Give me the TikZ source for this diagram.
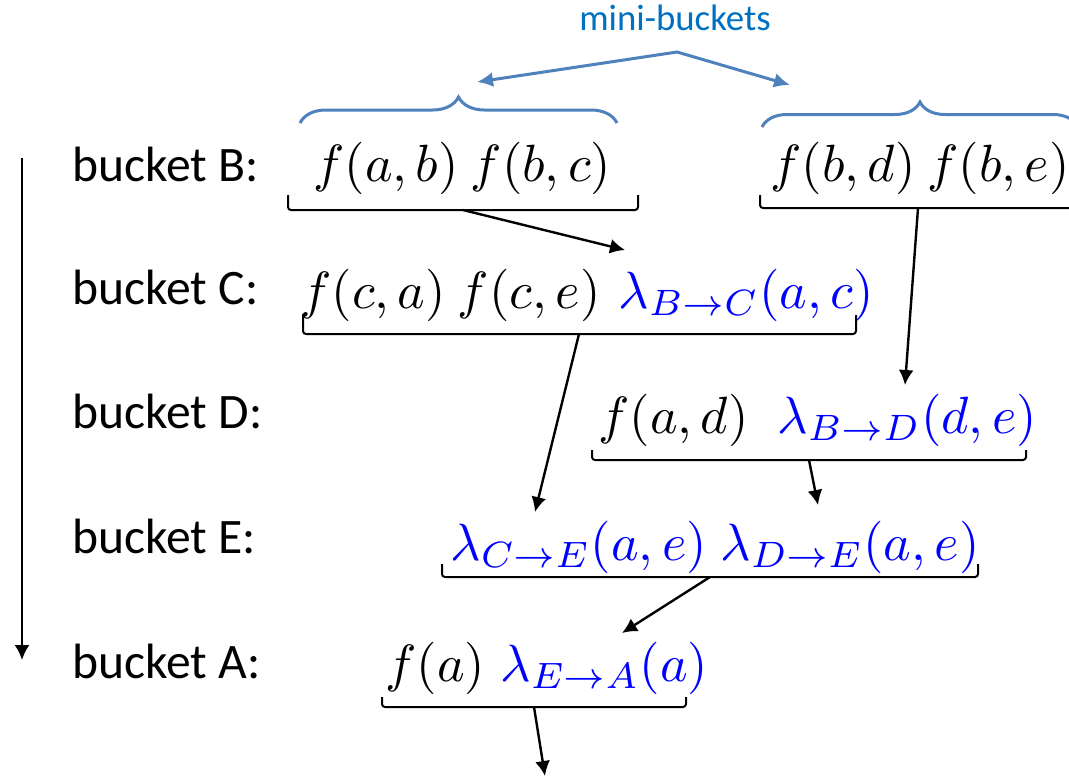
\documentclass[tikz,border=0pt]{standalone}
\usepackage{fontspec}
\usepackage{graphicx}
\setmainfont{Carlito}
\usetikzlibrary{arrows.meta,decorations.pathreplacing}
\definecolor{mbblue}{RGB}{0,112,192}
\definecolor{braceblue}{RGB}{79,129,189}
\newcommand{\bigmath}[1]{\scalebox{2.62}{$#1$}}
\tikzset{
  label/.style={anchor=base west, inner sep=0pt, font=\fontsize{24.8}{28}\selectfont},
  term/.style={anchor=base west, inner sep=0pt, font=\fontsize{10}{12}\selectfont},
  msg/.style={term, text=blue},
  brack/.style={line width=1pt, rounded corners=1.5pt},
  flow/.style={line width=1.2pt, -{Latex[length=7.5pt,width=7.5pt]}},
  minibrace/.style={braceblue, line width=1.5pt, decorate},
}
\begin{document}
\begin{tikzpicture}[x=0.5pt, y=-0.5pt]
    \useasboundingbox (0,0) rectangle (1069,778);

    % Elimination order
    \draw[flow] (22,158) -- (22,660);
    \node[label] (lB) at (72,181) {bucket B:};
    \node[label] (lC) at (72,304) {bucket C:};
    \node[label] (lD) at (72,428) {bucket D:};
    \node[label] (lE) at (72,553) {bucket E:};
    \node[label] (lA) at (72,678) {bucket A:};

    % Mini-buckets label
    \node[anchor=base, inner sep=0pt, text=mbblue, font=\fontsize{18.4}{22}\selectfont] (mb) at (675,30) {mini-buckets};
    \coordinate (apex) at (677,52);
    \coordinate (mbL) at (477,82);
    \coordinate (mbR) at (790,85);
    \draw[braceblue, line width=1.5pt, {Latex[length=8pt,width=7.5pt]}-{Latex[length=8pt,width=7.5pt]}] (mbL) -- (apex) -- (mbR);
    \draw[minibrace, decoration={brace, amplitude=13pt}] (300,123) -- (617,123);
    \draw[minibrace, decoration={brace, amplitude=12.5pt}] (762,127) -- (1078,127);

    % Bucket B
    \node[term] (fB1) at (313,181) {\bigmath{f(a,b)\ f(b,c)}};
    \node[term] (fB2) at (770,181) {\bigmath{f(b,d)\ f(b,e)}};
    \draw[brack] (288,195) -- (288,210) -- (638,210) -- (638,195);
    \coordinate (bB1) at (463,210);
    \draw[brack] (760,195) -- (760,208) -- (1076,208);
    \coordinate (bB2) at (918,208);

    % Bucket C
    \node[term] (fC) at (300,308) {\bigmath{f(c,a)\ f(c,e)}};
    \node[msg] (lamBC) at (618,308) {\bigmath{\lambda_{B\to C}(a,c)}};
    \draw[brack] (303,314) -- (303,334) -- (856,334) -- (856,315);
    \coordinate (bC) at (579,334);

    % Bucket D
    \node[term] (fD) at (598,433) {\bigmath{f(a,d)}};
    \node[msg] (lamBD) at (777,433) {\bigmath{\lambda_{B\to D}(d,e)}};
    \draw[brack] (592,450) -- (592,460) -- (1026,460) -- (1026,450);
    \coordinate (bD) at (809,460);

    % Bucket E
    \node[msg] (lamCE) at (450,560) {\bigmath{\lambda_{C\to E}(a,e)}};
    \node[msg] (lamDE) at (720,560) {\bigmath{\lambda_{D\to E}(a,e)}};
    \draw[brack] (442,564) -- (442,577) -- (978,577) -- (978,564);
    \coordinate (bE) at (710,577);

    % Bucket A
    \node[term] (fA) at (385,681) {\bigmath{f(a)}};
    \node[msg] (lamEA) at (500,681) {\bigmath{\lambda_{E\to A}(a)}};
    \draw[brack] (382,697) -- (382,707) -- (686,707) -- (686,697);
    \coordinate (bA) at (534,707);

    % Messages
    \coordinate (tBC) at (625,250);
    \coordinate (tBD) at (905,385);
    \coordinate (tCE) at (535,512);
    \coordinate (tDE) at (818,505);
    \coordinate (tEA) at (622,633);
    \coordinate (out) at (545,776);
    \draw[flow] (bB1) -- (tBC);
    \draw[flow] (bB2) -- (tBD);
    \draw[flow] (bC) -- (tCE);
    \draw[flow] (bD) -- (tDE);
    \draw[flow] (bE) -- (tEA);
    \draw[flow] (bA) -- (out);
\end{tikzpicture}
\end{document}
